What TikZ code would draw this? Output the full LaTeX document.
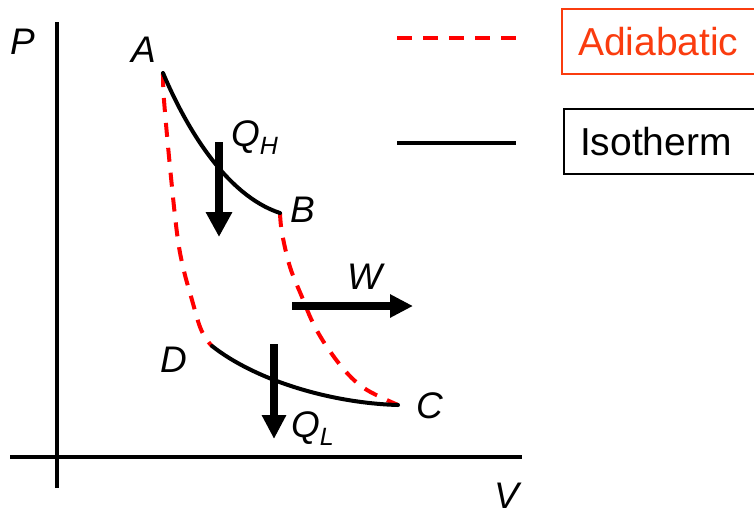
\documentclass[tikz,border=0pt]{standalone}
\usepackage{fontspec}
\setmainfont{Liberation Sans}
\usetikzlibrary{arrows.meta}
\definecolor{adred}{RGB}{255,0,0}
\definecolor{boxred}{RGB}{250,60,15}
\tikzset{
  axisline/.style={line width=4pt},
  isoline/.style={line width=4pt, line cap=round},
  adline/.style={line width=4pt, adred, dash pattern=on 14pt off 11pt},
  lbl/.style={inner sep=0pt, font=\fontsize{37}{37}\selectfont\itshape},
  bigarrow/.style={line width=8pt, -{Triangle[width=25pt,length=25pt]}},
  legendbox/.style={draw, line width=2pt, inner sep=0pt, minimum height=65pt, font=\fontsize{39}{39}\selectfont, text width=200pt, align=left}
}
\begin{document}
\begin{tikzpicture}[x=1pt,y=-1pt]
\useasboundingbox (0,0) rectangle (754,517);
% axes
\coordinate (yb) at (57,488); \coordinate (yt) at (57,22);
\coordinate (xl) at (10,457); \coordinate (xr) at (522,457);
\draw[axisline] (yb) -- (yt);
\draw[axisline] (xl) -- (xr);
\node[lbl] (P) at (23,42) {P};
\node[lbl] (V) at (507,496) {V};
% points
\coordinate (A) at (163,73);
\coordinate (B) at (280,213);
\coordinate (C) at (398,405);
\coordinate (D) at (212,346);
% adiabats
\draw[adline] plot[smooth, tension=0.6] coordinates {(A) (164,100) (170,167) (177,233) (183,267) (192,300) (200,327) (207,340) (D)};
\draw[adline] plot[smooth, tension=0.6] coordinates {(B) (282,233) (290,267) (302,297) (313,323) (327,347) (347,373) (367,390) (C)};
% isotherms
\draw[isoline] (A) .. controls (185,125) and (225,195) .. (B);
\draw[isoline] (D) .. controls (255,380) and (330,403) .. (C);
% labels
\node[lbl] (lA) at (144,50) {A};
\node[lbl] (lB) at (303,210) {B};
\node[lbl] (lC) at (430,406) {C};
\node[lbl] (lD) at (174,360) {D};
\node[lbl] (lW) at (365,277) {W};
\node[lbl, anchor=base west] (lQH) at (231,146) {Q\raisebox{-8pt}{\fontsize{25}{25}\selectfont H}};
\node[lbl, anchor=base west] (lQL) at (291,437) {Q\raisebox{-8pt}{\fontsize{25}{25}\selectfont L}};
% arrows
\coordinate (qh1) at (219,142); \coordinate (qh2) at (219,237);
\coordinate (w1) at (292,306); \coordinate (w2) at (413,306);
\coordinate (ql1) at (274,344); \coordinate (ql2) at (274,439);
\draw[bigarrow] (qh1) -- (qh2);
\draw[bigarrow, -{Triangle[width=22pt,length=23pt]}] (w1) -- (w2);
\draw[bigarrow, -{Triangle[width=23pt,length=24pt]}] (ql1) -- (ql2);
% legend
\coordinate (la1) at (397,38); \coordinate (la2) at (516,38);
\coordinate (li1) at (397,143); \coordinate (li2) at (516,143);
\draw[line width=4pt, adred, dash pattern=on 15pt off 11pt] (la1) -- (la2);
\draw[line width=4pt] (li1) -- (li2);
\node[legendbox, boxred, anchor=north west, text=boxred] (bad) at (561,8) {\hspace*{16pt}Adiabatic};
\node[legendbox, black, anchor=north west] (biso) at (563,108) {\hspace*{16pt}Isotherm};
\end{tikzpicture}
\end{document}
